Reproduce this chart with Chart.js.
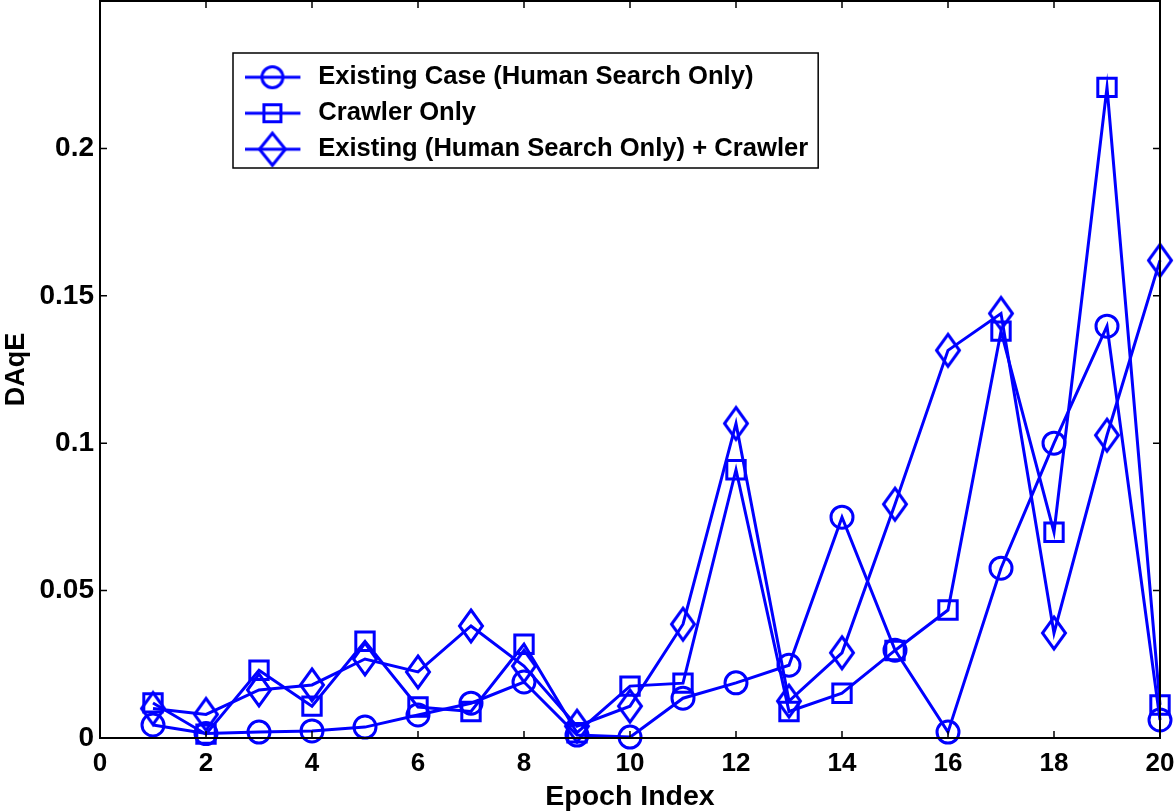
<!DOCTYPE html>
<html>
<head>
<meta charset="utf-8">
<script src="https://cdn.jsdelivr.net/npm/chart.js@4.4.1/dist/chart.umd.min.js"></script>
<style>
  html, body { margin: 0; padding: 0; background: #fff; }
  #wrap { width: 1176px; height: 811px; }
</style>
</head>
<body>
<div id="wrap"><canvas id="chart" width="1176" height="811"></canvas></div>
<script>
// epochs on the x axis
const epochs = [1, 2, 3, 4, 5, 6, 7, 8, 9, 10, 11, 12, 13, 14, 15, 16, 17, 18, 19, 20]

// DAqE values
const existingCase = [0.0044, 0.0015, 0.0020, 0.0024, 0.0037, 0.0078, 0.0118, 0.0190, 0.0010, 0.0003,
  0.0135, 0.0187, 0.0247, 0.0749, 0.0298, 0.0020, 0.0576, 0.1000, 0.1397, 0.0061]
const crawlerOnly = [0.0119, 0.0013, 0.0230, 0.0108, 0.0328, 0.0105, 0.0090, 0.0318, 0.0018, 0.0176,
  0.0186, 0.0910, 0.0090, 0.0152, 0.0297, 0.0434, 0.1380, 0.0698, 0.2207, 0.0112]
const existingPlusCrawler = [0.0100, 0.0080, 0.0163, 0.0180, 0.0268, 0.0224, 0.0380, 0.0244, 0.0040, 0.0108,
  0.0386, 0.1067, 0.0125, 0.0289, 0.0793, 0.1315, 0.1440, 0.0356, 0.1027, 0.1620]

const seriesNames = [
  'Existing Case (Human Search Only)',
  'Crawler Only',
  'Existing (Human Search Only) + Crawler',
]

const xTicks = [0, 2, 4, 6, 8, 10, 12, 14, 16, 18, 20]
const yTicks = [0, 0.05, 0.1, 0.15, 0.2, 0.25]

const BLUE = '#0000ff'
const LEGEND_FONT = 25.6
const LEGEND_PAD = 10.4

// tall diamond marker like matlab's 'd'
const makeDiamond = () => {
  const c = document.createElement('canvas')
  c.width = 30
  c.height = 40
  const g = c.getContext('2d')
  g.strokeStyle = BLUE
  g.lineWidth = 3
  g.beginPath()
  g.moveTo(15, 4)
  g.lineTo(26.5, 20)
  g.lineTo(15, 36)
  g.lineTo(3.5, 20)
  g.closePath()
  g.stroke()
  return c
}

// legend swatch: line with the marker on it
const makeSwatch = (kind) => {
  const c = document.createElement('canvas')
  c.width = 58
  c.height = 40
  const g = c.getContext('2d')
  g.strokeStyle = BLUE
  g.lineWidth = 3
  g.beginPath()
  g.moveTo(0, 20)
  g.lineTo(55, 20)
  g.stroke()
  g.beginPath()
  if (kind === 'circle') {
    g.arc(27, 20, 10.5, 0, Math.PI * 2)
  } else if (kind === 'rect') {
    g.rect(18.5, 11.5, 17, 17)
  } else {
    g.moveTo(27, 4); g.lineTo(40, 20); g.lineTo(27, 36); g.lineTo(14, 20); g.closePath()
  }
  g.stroke()
  return c
}

const diamond = makeDiamond()
const swatches = [makeSwatch('circle'), makeSwatch('rect'), makeSwatch('diamond')]

const toPoints = (vals) => vals.map((v, i) => ({ x: epochs[i], y: v }))

const dataset = (label, vals, style, radius) => ({
  label,
  data: toPoints(vals),
  borderColor: BLUE,
  backgroundColor: 'transparent',
  borderWidth: 3,
  pointStyle: style,
  pointRadius: radius,
  pointBorderWidth: 3,
  pointBorderColor: BLUE,
  pointBackgroundColor: 'transparent',
  tension: 0,
  clip: false,
})

// inside ticks, the axes box and the legend frame, matlab style
const boxPlugin = {
  id: 'box',
  afterUpdate(chart) {
    // move the legend up-left inside the axes, keep its size
    const lg = chart.legend
    const dx = 233 - lg.left
    const dy = 54 - lg.top
    lg.left += dx; lg.right += dx
    lg.top += dy; lg.bottom += dy
  },
  afterDraw(chart) {
    const { ctx, chartArea: a, scales: { x, y } } = chart
    ctx.save()
    ctx.strokeStyle = '#000'
    ctx.lineWidth = 2
    ctx.strokeRect(a.left, a.top, a.right - a.left, a.bottom - a.top)
    ctx.lineWidth = 1.5
    ctx.beginPath()
    xTicks.forEach(t => {
      const px = x.getPixelForValue(t)
      ctx.moveTo(px, a.bottom); ctx.lineTo(px, a.bottom - 7)
      ctx.moveTo(px, a.top); ctx.lineTo(px, a.top + 7)
    })
    yTicks.forEach(t => {
      const py = y.getPixelForValue(t)
      ctx.moveTo(a.left, py); ctx.lineTo(a.left + 7, py)
      ctx.moveTo(a.right, py); ctx.lineTo(a.right - 7, py)
    })
    ctx.stroke()
    const lg = chart.legend
    const n = lg.legendItems ? lg.legendItems.length : 3
    const frameH = n * (LEGEND_FONT + LEGEND_PAD) + 7
    ctx.lineWidth = 1.5
    ctx.strokeRect(lg.left, lg.top - 1, lg.width, frameH)
    ctx.restore()
  },
}

const family = 'Liberation Sans, Arial, sans-serif'

new Chart(document.getElementById('chart'), {
  type: 'line',
  data: {
    datasets: [
      dataset(seriesNames[0], existingCase, 'circle', 11),
      dataset(seriesNames[1], crawlerOnly, 'rect', 13),
      dataset(seriesNames[2], existingPlusCrawler, diamond, 10),
    ],
  },
  options: {
    responsive: false,
    animation: false,
    events: [],
    layout: { autoPadding: false, padding: { left: 0, right: 16, top: 1, bottom: 0 } },
    plugins: {
      tooltip: { enabled: false },
      legend: {
        position: 'chartArea',
        align: 'start',
        labels: {
          usePointStyle: true,
          pointStyleWidth: 62,
          padding: LEGEND_PAD,
          color: '#000',
          font: { family, size: LEGEND_FONT, weight: 'bold' },
          generateLabels: (chart) => chart.data.datasets.map((ds, i) => ({
            text: ds.label,
            pointStyle: swatches[i],
            fillStyle: 'transparent',
            strokeStyle: BLUE,
            lineWidth: 0,
            datasetIndex: i,
            hidden: false,
          })),
        },
      },
    },
    scales: {
      x: {
        type: 'linear',
        min: 0,
        max: 20,
        grid: { display: false, drawTicks: false },
        border: { display: false },
        ticks: {
          stepSize: 2,
          autoSkip: false,
          maxRotation: 0,
          padding: 10,
          color: '#000',
          font: { family, size: 26, weight: 'bold' },
        },
        title: { display: true, text: 'Epoch Index', color: '#000', font: { family, size: 28.5, weight: 'bold', lineHeight: 1.0 }, padding: 0 },
        afterFit: (s) => { s.height = 73; s.paddingLeft = 0; s.paddingRight = 0 },
      },
      y: {
        min: 0,
        max: 0.25,
        grid: { display: false, drawTicks: false },
        border: { display: false },
        ticks: {
          stepSize: 0.05,
          padding: 6,
          color: '#000',
          font: { family, size: 28, weight: 'bold' },
          callback: (v) => (v > 0.2001 ? '' : String(Number(v.toFixed(2)))),
        },
        title: { display: true, text: 'DAqE', color: '#000', font: { family, size: 27, weight: 'bold' }, padding: 0 },
        afterFit: (s) => { s.width = 100; s.paddingTop = 0; s.paddingBottom = 0 },
      },
    },
  },
  plugins: [boxPlugin],
})
</script>
</body>
</html>
